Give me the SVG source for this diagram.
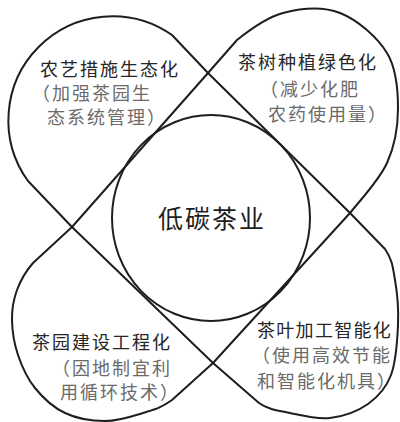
<svg xmlns="http://www.w3.org/2000/svg" width="400" height="422" viewBox="0 0 400 422">
<style>
.o{fill:none;stroke:#1e1e1e;stroke-width:2;stroke-linejoin:round;stroke-linecap:round}
text{font-family:"Noto Sans CJK SC","Noto Sans CJK JP",sans-serif;letter-spacing:2px}
.t{font-size:18px;fill:#262626}
.s{font-size:18px;fill:#6a6a6a}
.c{font-size:25px;fill:#1e1e1e}
</style>
<rect width="400" height="422" fill="#fff"/>
<g id="connectors">
<path class="o" d="M208,73 L350,213 M350,213 L213,363 M213,363 L72,227 M72,227 L208,73"/>
</g>
<g id="node-tl">
<path class="o" d="M72,227 L28,181 A104,104 0 0 1 172,35 L208,73"/>
<text class="t" x="40" y="76">农艺措施生态化</text>
<text class="s" x="32" y="100">（加强茶园生</text>
<text class="s" x="47" y="124">态系统管理）</text>
</g>
<g id="node-tr">
<path class="o" d="M208,73 L237,40 C249.5,30 265.8,17.5 283,13 C300.2,8.5 322.7,6.3 340,13 C357.3,19.7 377.3,37.2 387,53 C396.7,68.8 398,89.7 398,108 C398,126.3 395,145.5 387,163 C379,180.5 361,199.2 350,213"/>
<text class="t" x="238" y="69">茶树种植绿色化</text>
<text class="s" x="260" y="96">（减少化肥</text>
<text class="s" x="268" y="121">农药使用量）</text>
</g>
<g id="node-br">
<path class="o" d="M350,213 L385,249 C392.5,260.2 392.8,267.3 395,280 C397.2,292.7 398.7,309.2 398,325 C397.3,340.8 396,361.8 391,375 C386,388.2 378.2,396.8 368,404 C357.8,411.2 343,416.5 330,418 C317,419.5 301.8,415.5 290,413 C278.2,410.5 268,409.5 259,403 L213,363"/>
<text class="t" x="257" y="337" style="letter-spacing:1.3px">茶叶加工智能化</text>
<text class="s" x="252" y="362">（使用高效节能</text>
<text class="s" x="257" y="388">和智能化机具）</text>
</g>
<g id="node-bl">
<path class="o" d="M72,227 L33,263 C23.8,273.5 20.5,280.5 17,290 C13.5,299.5 11.8,309.2 12,320 C12.2,330.8 14.2,343.7 18,355 C21.8,366.3 27.2,378.3 35,388 C42.8,397.7 53.3,407.5 65,413 C76.7,418.5 92,421 105,421 C118,421 131.8,416.5 143,413 C154.2,409.5 160.3,408.3 172,400 L213,363"/>
<text class="t" x="32" y="349">茶园建设工程化</text>
<text class="s" x="52" y="375">（因地制宜利</text>
<text class="s" x="60" y="399">用循环技术）</text>
</g>
<g id="node-center">
<ellipse class="o" cx="211" cy="218" rx="99" ry="103"/>
<text class="c" x="158" y="228">低碳茶业</text>
</g>
</svg>
